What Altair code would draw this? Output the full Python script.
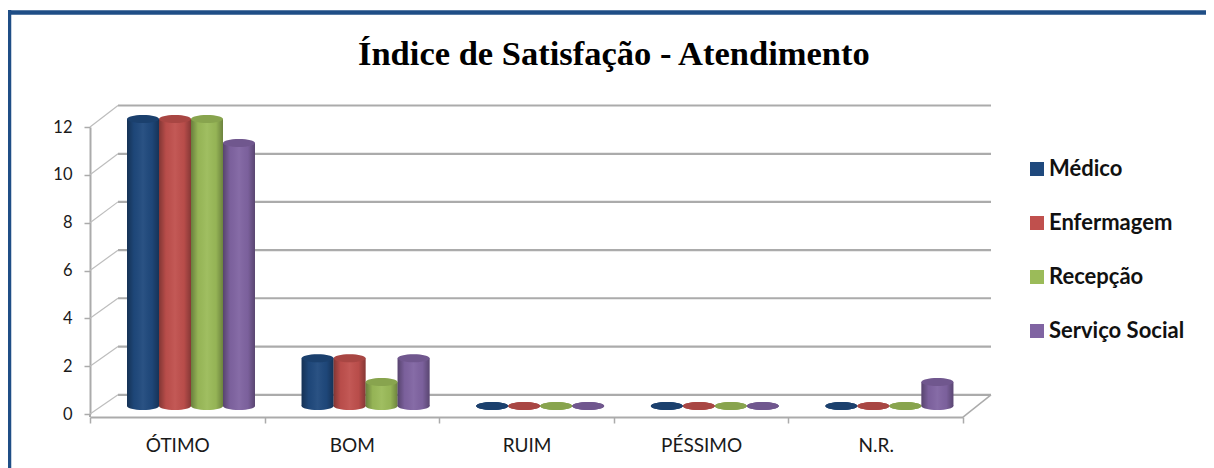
import altair as alt
import pandas as pd

categories = ["ÓTIMO", "BOM", "RUIM", "PÉSSIMO", "N.R."]
series = ["Médico", "Enfermagem", "Recepção", "Serviço Social"]
colors = ["#1F497D", "#C0504D", "#9BBB59", "#8064A2"]
medico = [12, 2, 0, 0, 0]
enfermagem = [12, 2, 0, 0, 0]
recepcao = [12, 1, 0, 0, 0]
servico = [11, 2, 0, 0, 1]
ticks = [0, 2, 4, 6, 8, 10, 12]
back_wall = [0.8, 2.82, 4.84, 6.85, 8.87, 10.88, 12.9]

rows = []
for s, vals in zip(series, [medico, enfermagem, recepcao, servico]):
    for c, v in zip(categories, vals):
        rows.append({"cat": c, "serie": s, "valor": v, "zero": 0})
bars = pd.DataFrame(rows)
grid = pd.DataFrame({"front": ticks, "back": back_wall})

GRAY = "#ababab"
FONT = "Lato"
DX, W = 28, 873
BAR_DY = -8
ELL = "M-1,0 A1,0.25 0 1 1 1,0 A1,0.25 0 1 1 -1,0 Z"

x = alt.X("cat:N", sort=categories, title=None,
          scale=alt.Scale(paddingInner=0, paddingOuter=0),
          axis=alt.Axis(offset=3, tickBand="extent", labelAngle=0, labelFont=FONT, labelFontSize=19,
                        labelColor="#1a1a1a", labelPadding=13, tickSize=6, tickColor=GRAY, tickWidth=1.5,
                        domainColor=GRAY, domainWidth=2))
xo = alt.XOffset("serie:N", sort=series, scale=alt.Scale(range=[37, 165], paddingInner=0, paddingOuter=0))
yscale = alt.Scale(domain=[0, 12], nice=False, zero=False)
color = alt.Color("serie:N", sort=series, scale=alt.Scale(domain=series, range=colors), title=None,
                  legend=alt.Legend(orient="none", legendX=936, legendY=31, symbolType="square", symbolSize=196,
                                    symbolStrokeWidth=0, symbolOpacity=1, labelFont=FONT, labelFontWeight="bold",
                                    labelFontSize=22, labelColor="#111111", rowPadding=32, labelOffset=1,
                                    labelLimit=220, padding=0))
shade = alt.Gradient(gradient="linear", x1=0, x2=1, y1=0, y2=0, stops=[
    alt.GradientStop(color="rgba(0,0,0,0.32)", offset=0),
    alt.GradientStop(color="rgba(0,0,0,0.04)", offset=0.22),
    alt.GradientStop(color="rgba(255,255,255,0.05)", offset=0.5),
    alt.GradientStop(color="rgba(0,0,0,0.04)", offset=0.78),
    alt.GradientStop(color="rgba(0,0,0,0.3)", offset=1),
])

y_axis = alt.Axis(values=ticks, title=None, grid=False, labelFont=FONT, labelFontSize=16.5, labelColor="#1a1a1a",
                  labelPadding=12, tickSize=6, tickColor=GRAY, tickWidth=1.5, domainColor=GRAY, domainWidth=2)

walls = alt.Chart(grid).mark_rule(color=GRAY, strokeWidth=2.2).encode(
    x=alt.value(DX), x2=alt.value(W + DX),
    y=alt.Y("back:Q", scale=yscale, axis=y_axis),
)
depth = alt.Chart(grid).mark_rule(color="#bdbdbd", strokeWidth=1.2).encode(
    x=alt.value(0), x2=alt.value(DX),
    y=alt.Y("front:Q", scale=yscale), y2="back:Q",
)
corner = alt.Chart(pd.DataFrame({"a": [-0.13], "b": [0.8]})).mark_rule(color=GRAY, strokeWidth=1.5).encode(
    x=alt.value(W), x2=alt.value(W + DX), y=alt.Y("a:Q", scale=yscale), y2="b:Q",
)
stub = alt.Chart(pd.DataFrame({"a": [-0.13], "b": [0]})).mark_rule(color=GRAY, strokeWidth=2).encode(
    x=alt.value(0), y=alt.Y("a:Q", scale=yscale), y2="b:Q",
)

base = alt.Chart(bars)
def ell(field):
    return base.mark_point(filled=True, shape=ELL, size=1024, strokeWidth=0, opacity=1, yOffset=BAR_DY).encode(
        x=x, xOffset=xo, y=alt.Y(f"{field}:Q", scale=yscale), color=color)

bottom = ell("zero")
bottom_shade = base.mark_point(filled=True, shape=ELL, size=1024, strokeWidth=0, yOffset=BAR_DY,
                               fill=shade, opacity=1).encode(
    x=x, xOffset=xo, y=alt.Y("zero:Q", scale=yscale))
body = base.mark_bar(yOffset=BAR_DY, y2Offset=BAR_DY, opacity=1).encode(
    x=x, xOffset=xo, y=alt.Y("valor:Q", scale=yscale), y2="zero:Q", color=color)
body_shade = base.mark_bar(yOffset=BAR_DY, y2Offset=BAR_DY, fill=shade, opacity=1).encode(
    x=x, xOffset=xo, y=alt.Y("valor:Q", scale=yscale), y2="zero:Q")
top = ell("valor")
top_shade = base.mark_point(filled=True, shape=ELL, size=1024, strokeWidth=0, yOffset=BAR_DY,
                            fill="#000000", opacity=0.12).encode(
    x=x, xOffset=xo, y=alt.Y("valor:Q", scale=yscale))

FRAME = "#1F4E86"
frame_top = alt.Chart(pd.DataFrame({"a": [0]})).mark_rule(color=FRAME, strokeWidth=4.5).encode(
    x=alt.value(-82), x2=alt.value(1116), y=alt.value(-114.5))
frame_left = alt.Chart(pd.DataFrame({"a": [0]})).mark_rule(color=FRAME, strokeWidth=4.5).encode(
    x=alt.value(-81), y=alt.value(-117), y2=alt.value(341))

chart = alt.layer(walls, depth, corner, stub, bottom, bottom_shade, body, body_shade, top, top_shade,
                  frame_top, frame_left).properties(
    width=W, height=287,
    padding={"left": 82, "top": 119, "right": 243, "bottom": 54},
    autosize=alt.AutoSizeParams(type="none"),
    title=alt.Title("Índice de Satisfação - Atendimento", font="Liberation Serif", fontWeight="bold", fontSize=34.5,
                    color="#000000", anchor="start", frame="group", dx=268, offset=0, dy=99, baseline="bottom"),
).configure_view(stroke=None)

chart.save("out.html", embed_options={"renderer": "svg", "actions": False})
